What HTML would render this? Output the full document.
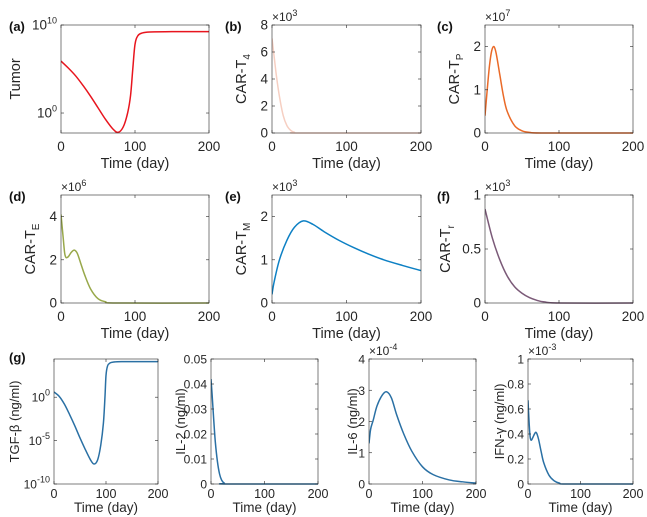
<!DOCTYPE html>
<html><head><meta charset="utf-8"><style>
body{margin:0;background:#fff;}
svg{display:block;font-family:"Liberation Sans",sans-serif;}
</style></head><body>
<svg id="fig" width="647" height="517" viewBox="0 0 647 517"></svg>
<script>
const tumorT=[0,10,20,30,40,50,60,70,77,84,90,94,97,100,104,110,120,150,200];
const tumorV=[5.9,5.1,4.2,3.1,1.9,0.6,-0.7,-1.8,-2.2,-1.6,0,2,5,7.8,8.8,9.1,9.2,9.25,9.25];
const t4T=[0,3,6,10,15,20,25,30,40,200];
const t4V=[7.0,5.6,4.2,2.7,1.3,0.55,0.2,0.06,0,0];
const tpT=[0,3,6,9,12,15,20,25,30,40,50,60,80,200];
const tpV=[0.4,1.0,1.55,1.9,2.0,1.85,1.35,0.85,0.5,0.17,0.05,0.015,0,0];
const teT=[0,3,5,7,10,14,18,22,27,32,40,50,60,75,200];
const teV=[4.1,3.0,2.3,2.1,2.15,2.35,2.45,2.3,1.8,1.3,0.65,0.2,0.06,0,0];
const tmT=[0,3,10,20,30,42,55,70,90,110,130,150,175,200];
const tmV=[0.2,0.5,1.0,1.45,1.75,1.9,1.82,1.65,1.45,1.28,1.13,1.0,0.87,0.75];
const trT=[0,10,20,30,40,50,60,70,80,100,200];
const trV=[0.87,0.6,0.4,0.25,0.15,0.09,0.05,0.025,0.01,0,0];
const tgfT=[0,10,20,30,40,50,60,70,77,84,90,95,98,100,103,108,115,130,200];
const tgfV=[0.6,0.1,-0.8,-2,-3.3,-4.7,-6,-7.2,-7.7,-7.2,-5.5,-3,0,2.5,3.6,3.95,4.05,4.1,4.1];
const il2T=[0,2,5,8,12,16,20,25,30,200];
const il2V=[0.042,0.036,0.026,0.017,0.009,0.004,0.0015,0.0003,0,0];
const il6T=[0,3,8,15,25,33,42,52,65,80,100,120,150,175,200];
const il6V=[1.3,1.75,2.05,2.5,2.85,2.95,2.75,2.2,1.6,1.05,0.55,0.3,0.13,0.07,0.03];
const ifnT=[0,2,4,6,9,13,16,20,25,30,40,50,60,75,200];
const ifnV=[0.67,0.5,0.38,0.35,0.37,0.405,0.41,0.36,0.26,0.17,0.07,0.025,0.007,0,0];

const NS="http://www.w3.org/2000/svg";
const svg=document.getElementById('fig');
function el(tag,attrs,parent){const e=document.createElementNS(NS,tag);for(const k in attrs)e.setAttribute(k,attrs[k]);(parent||svg).appendChild(e);return e;}
const AX='#262626';
function panel(p){
  const g=el('g',{});
  
  
  const {x0,x1,y0,y1,ymin,ymax}=p;
  const sx=t=>x0+(t)/200*(x1-x0);
  const sy=v=>y1-(v-ymin)/(ymax-ymin)*(y1-y0);
  let d='';
  const pts=p.T.map((t,i)=>[sx(t),sy(p.V[i])]);
  for(let i=0;i<pts.length;i++){
    if(i==0){d+='M'+pts[0][0].toFixed(2)+','+pts[0][1].toFixed(2);continue;}
    const p0=pts[Math.max(0,i-2)],p1=pts[i-1],p2=pts[i],p3=pts[Math.min(pts.length-1,i+1)];
    const c1=[p1[0]+(p2[0]-p0[0])/6,p1[1]+(p2[1]-p0[1])/6];
    const c2=[p2[0]-(p3[0]-p1[0])/6,p2[1]-(p3[1]-p1[1])/6];
    d+=`C${c1[0].toFixed(2)},${c1[1].toFixed(2)} ${c2[0].toFixed(2)},${c2[1].toFixed(2)} ${p2[0].toFixed(2)},${p2[1].toFixed(2)}`;
  }
  const clip='c'+p.name;
  const cp=el('clipPath',{id:clip},g);el('rect',{x:x0,y:y0-1,width:x1-x0,height:y1-y0+2},cp);
  const line=el('path',{d:d,fill:'none',stroke:p.color,'stroke-width':1.5,'clip-path':`url(#${clip})`},g);
  
  
  el('rect',{x:x0,y:y0,width:x1-x0,height:y1-y0,fill:'none',stroke:AX,'stroke-width':0.6},g);
  const tko=p.tko||18, xlo=p.xlo||35;
  [0,100,200].forEach(t=>{
    const X=sx(t);
    el('line',{x1:X,x2:X,y1:y1,y2:y1-3,stroke:AX,'stroke-width':0.6},g);
    el('line',{x1:X,x2:X,y1:y0,y2:y0+3,stroke:AX,'stroke-width':0.6},g);
    const tx=el('text',{x:X,y:y1+tko,'text-anchor':'middle','font-size':p.xfs||13.5,fill:AX},g);tx.textContent=t;
  });
  p.yt.forEach((v,i)=>{
    const Y=sy(v);
    el('line',{x1:x0,x2:x0+3,y1:Y,y2:Y,stroke:AX,'stroke-width':0.6},g);
    el('line',{x1:x1,x2:x1-3,y1:Y,y2:Y,stroke:AX,'stroke-width':0.6},g);
    const tx=el('text',{x:x0-4,y:Y+4.5,'text-anchor':'end','font-size':p.fs||13.5,fill:AX},g);
    if(p.log){tx.textContent='10';const s=el('tspan',{dy:-6,'font-size':9},tx);s.textContent=p.ytl[i];}
    else tx.textContent=p.ytl[i];
  });
  const xl=el('text',{x:(x0+x1)/2,y:y1+xlo,'text-anchor':'middle','font-size':p.xfs?p.xfs+1:14.5,fill:AX},g);xl.textContent='Time (day)';
  
  
  const yl=el('text',{transform:`translate(${p.ylx},${(y0+y1)/2}) rotate(-90)`,'text-anchor':'middle','font-size':p.yfs||14.5,fill:AX},g);
  yl.textContent=p.ylab;
  if(p.sub){const s=el('tspan',{dy:4,'font-size':10},yl);s.textContent=p.sub;}
  
  
  if(p.exp){const e=el('text',{x:x0,y:y0-4,'font-size':12,fill:AX},g);e.textContent='×10';const s=el('tspan',{dy:-5,'font-size':9},e);s.textContent=p.exp;}
  if(p.letter){const L=el('text',{x:p.lx,y:p.ly,'font-size':13,'font-weight':'bold',fill:'#111'},g);L.textContent=p.letter;
    
    }
}
panel({name:'tumor',x0:61,x1:209,y0:25,y1:133,ymin:-2.27,ymax:10,T:tumorT,V:tumorV,color:'#e8151e',yt:[0,10],ytl:['0','10'],log:true,ylab:'Tumor',ylx:20,letter:'(a)',lx:9,ly:31});
panel({name:'car-t4',x0:272,x1:421,y0:25,y1:133,ymin:0,ymax:8,T:t4T,V:t4V,color:'#f6cfc2',yt:[0,2,4,6,8],ytl:['0','2','4','6','8'],ylab:'CAR-T',sub:'4',ylx:246,exp:'3',letter:'(b)',lx:225,ly:31});
panel({name:'car-tp',x0:485,x1:633,y0:25,y1:133,ymin:0,ymax:2.5,T:tpT,V:tpV,color:'#ea6a28',yt:[0,1,2],ytl:['0','1','2'],ylab:'CAR-T',sub:'P',ylx:459,exp:'7',letter:'(c)',lx:437,ly:31});
panel({name:'car-te',x0:61,x1:209,y0:195,y1:303,ymin:0,ymax:5,T:teT,V:teV,color:'#98a84a',yt:[0,2,4],ytl:['0','2','4'],ylab:'CAR-T',sub:'E',ylx:35,exp:'6',letter:'(d)',lx:9,ly:201});
panel({name:'car-tm',x0:272,x1:421,y0:195,y1:303,ymin:0,ymax:2.5,T:tmT,V:tmV,color:'#0d80c4',yt:[0,1,2],ytl:['0','1','2'],ylab:'CAR-T',sub:'M',ylx:246,exp:'3',letter:'(e)',lx:225,ly:201});
panel({name:'car-tr',x0:485,x1:633,y0:195,y1:303,ymin:0,ymax:1,T:trT,V:trV,color:'#7b5a78',yt:[0,0.5,1],ytl:['0','0.5','1'],ylab:'CAR-T',sub:'r',ylx:450,exp:'3',letter:'(f)',lx:437,ly:201});
const r3={tko:14,xlo:28,xfs:12.5};
panel(Object.assign({name:'tgf-beta',x0:54,x1:158,y0:359,y1:484,ymin:-10,ymax:4.4,T:tgfT,V:tgfV,color:'#2a70a4',yt:[-10,-5,0],ytl:['-10','-5','0'],log:true,fs:12,ylab:'TGF-β (ng/ml)',yfs:13,ylx:19,letter:'(g)',lx:9,ly:362},r3));
panel(Object.assign({name:'il-2',x0:211,x1:318,y0:359,y1:484,ymin:0,ymax:0.05,T:il2T,V:il2V,color:'#2a70a4',yt:[0,0.01,0.02,0.03,0.04,0.05],ytl:['0','0.01','0.02','0.03','0.04','0.05'],fs:12,ylab:'IL-2 (ng/ml)',yfs:13,ylx:185},r3));
panel(Object.assign({name:'il-6',x0:369,x1:476,y0:359,y1:484,ymin:0,ymax:4,T:il6T,V:il6V,color:'#2a70a4',yt:[0,1,2,3,4],ytl:['0','1','2','3','4'],fs:12,ylab:'IL-6 (ng/ml)',yfs:13,ylx:357,exp:'-4'},r3));
panel(Object.assign({name:'ifn-gamma',x0:528,x1:633,y0:359,y1:484,ymin:0,ymax:1,T:ifnT,V:ifnV,color:'#2a70a4',yt:[0,0.2,0.4,0.6,0.8,1],ytl:['0','0.2','0.4','0.6','0.8','1'],fs:12,ylab:'IFN-γ (ng/ml)',yfs:13,ylx:504,exp:'-3'},r3));
</script>
</body></html>
